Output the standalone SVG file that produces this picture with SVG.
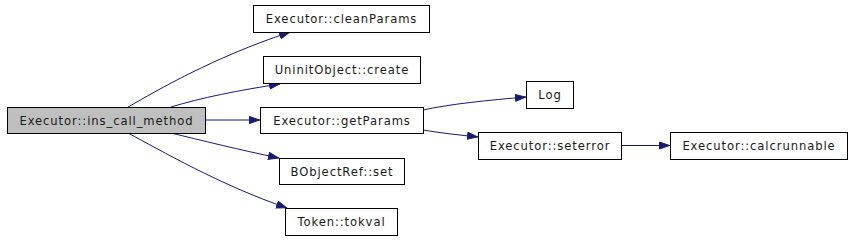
<svg xmlns="http://www.w3.org/2000/svg" width="853" height="240" viewBox="0 0 853 240">
<style>
.n rect{fill:#ffffff;stroke:#000000;stroke-width:1}
.n.cur rect{fill:#bfbfbf}
.n text{font-family:"DejaVu Sans",sans-serif;font-size:11.6px;letter-spacing:0.9px;text-anchor:middle;fill:#1a1a1a}
.e path{fill:none;stroke:#191970;stroke-width:1;marker-end:url(#arr)}
</style>
<defs>
<marker id="arr" markerUnits="userSpaceOnUse" markerWidth="12" markerHeight="9" refX="11" refY="4" orient="auto">
<path d="M0.5,0.5 L10.5,4 L0.5,7.5 z" fill="#191970" stroke="#191970" stroke-width="1"/>
</marker>
</defs>
<rect width="853" height="240" fill="#ffffff"/>
<g id="edges" class="e">
<path d="M128,107 C158,90 212,58 290,32"/>
<path d="M171,107 C200,98 240,90 280,84"/>
<path d="M205,120 L260,120"/>
<path d="M171,133 C200,140 240,150 279,158"/>
<path d="M128,133 C160,150 220,185 287,208"/>
<path d="M423,110 C450,104 490,100 526,97"/>
<path d="M423,130 C440,133 460,135 478,137"/>
<path d="M621,145.5 L670,145.5"/>
</g>
<g id="ins_call_method" class="n cur"><rect x="7.5" y="107.5" width="198" height="26"/><text x="106.5" y="124.5">Executor::ins_call_method</text></g>
<g id="cleanParams" class="n"><rect x="253.5" y="5.5" width="176" height="27"/><text x="341.5" y="23">Executor::cleanParams</text></g>
<g id="create" class="n"><rect x="263.5" y="56.5" width="157" height="27"/><text x="342" y="74">UninitObject::create</text></g>
<g id="getParams" class="n"><rect x="260.5" y="107.5" width="163" height="26"/><text x="342" y="124.5">Executor::getParams</text></g>
<g id="set" class="n"><rect x="279.5" y="158.5" width="125" height="26"/><text x="342" y="175.5">BObjectRef::set</text></g>
<g id="tokval" class="n"><rect x="285.5" y="208.5" width="112" height="27"/><text x="341.5" y="226">Token::tokval</text></g>
<g id="Log" class="n"><rect x="526.5" y="81.5" width="47" height="27"/><text x="550" y="99">Log</text></g>
<g id="seterror" class="n"><rect x="478.5" y="132.5" width="143" height="27"/><text x="550" y="150">Executor::seterror</text></g>
<g id="calcrunnable" class="n"><rect x="670.5" y="132.5" width="177" height="27"/><text x="759" y="150">Executor::calcrunnable</text></g>
</svg>
